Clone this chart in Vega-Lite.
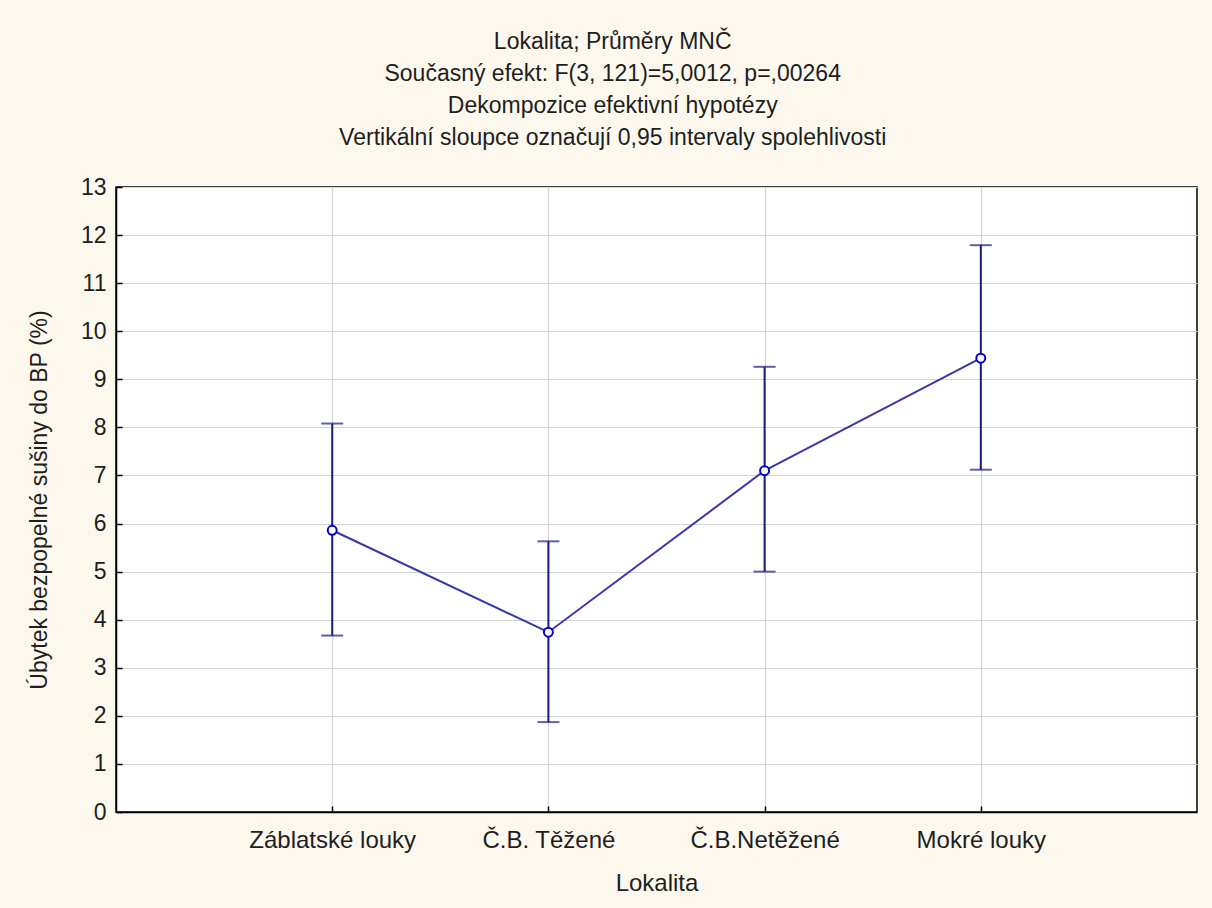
{
  "$schema": "https://vega.github.io/schema/vega-lite/v6.json",
  "autosize": {"type": "none"},
  "padding": {"left": 116, "top": 187, "right": 15, "bottom": 96},
  "width": 1081,
  "height": 625,
  "background": "#fcf8ee",
  "title": {
    "text": ["Lokalita; Průměry MNČ", "Současný efekt: F(3, 121)=5,0012, p=,00264", "Dekompozice efektivní hypotézy", "Vertikální sloupce označují 0,95 intervaly spolehlivosti"],
    "font": "Liberation Sans",
    "fontSize": 23,
    "fontWeight": "normal",
    "color": "#1e1e1e",
    "lineHeight": 32,
    "anchor": "middle",
    "frame": "bounds",
    "offset": 26
  },
  "config": {
    "view": {"stroke": "#000000", "strokeWidth": 1.5, "fill": "#ffffff"},
    "axis": {
      "labelFont": "Liberation Sans",
      "titleFont": "Liberation Sans",
      "labelColor": "#1e1e1e",
      "titleColor": "#1e1e1e",
      "titleFontWeight": "normal",
      "domainColor": "#000000",
      "domainWidth": 1.5,
      "tickColor": "#000000",
      "tickWidth": 1.5,
      "tickSize": -6,
      "gridColor": "#d4d4d4",
      "gridWidth": 1.2
    }
  },
  "data": {
    "values": [
      {"lokalita": "Záblatské louky", "mean": 5.86, "lo": 3.67, "hi": 8.08},
      {"lokalita": "Č.B. Těžené", "mean": 3.74, "lo": 1.87, "hi": 5.63},
      {"lokalita": "Č.B.Netěžené", "mean": 7.1, "lo": 5.0, "hi": 9.26},
      {"lokalita": "Mokré louky", "mean": 9.44, "lo": 7.12, "hi": 11.79}
    ]
  },
  "encoding": {
    "x": {
      "field": "lokalita",
      "type": "nominal",
      "sort": null,
      "scale": {"type": "point", "padding": 1},
      "axis": {
        "title": "Lokalita",
        "labelAngle": 0,
        "labelFontSize": 24,
        "titleFontSize": 24,
        "labelPadding": 22,
        "titlePadding": 19,
        "grid": true
      }
    }
  },
  "layer": [
    {
      "mark": {"type": "rule", "color": "#1c1c7a", "strokeWidth": 2},
      "encoding": {
        "y": {
          "field": "lo",
          "type": "quantitative",
          "scale": {"domain": [0, 13], "nice": false},
          "axis": {
            "title": "Úbytek bezpopelné sušiny do BP (%)",
            "values": [0,1,2,3,4,5,6,7,8,9,10,11,12,13],
            "labelFontSize": 23,
            "titleFontSize": 23,
            "labelPadding": 16,
            "titlePadding": 29,
            "grid": true
          }
        },
        "y2": {"field": "hi"}
      }
    },
    {
      "mark": {"type": "tick", "color": "#1c1c7a", "thickness": 2, "size": 22, "orient": "horizontal"},
      "encoding": {"y": {"field": "lo", "type": "quantitative"}}
    },
    {
      "mark": {"type": "tick", "color": "#1c1c7a", "thickness": 2, "size": 22, "orient": "horizontal"},
      "encoding": {"y": {"field": "hi", "type": "quantitative"}}
    },
    {
      "mark": {"type": "line", "color": "#3838aa", "strokeWidth": 2},
      "encoding": {"y": {"field": "mean", "type": "quantitative"}}
    },
    {
      "mark": {"type": "point", "shape": "circle", "filled": true, "fill": "#ffffff", "stroke": "#0000c8", "strokeWidth": 2, "size": 80, "opacity": 1},
      "encoding": {"y": {"field": "mean", "type": "quantitative"}}
    }
  ]
}
